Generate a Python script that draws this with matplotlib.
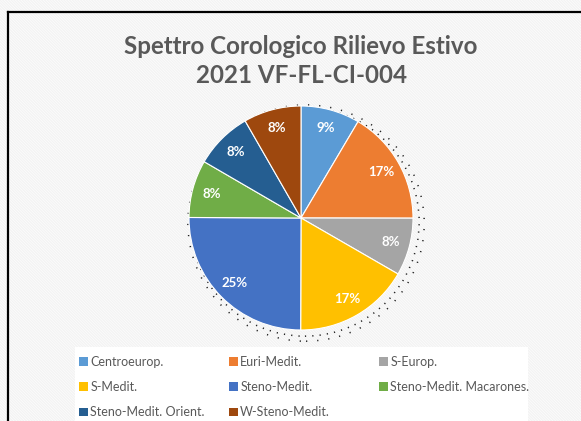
import matplotlib
matplotlib.use("Agg")
import matplotlib.pyplot as plt
from matplotlib.patches import Rectangle, Patch, Circle
from matplotlib.lines import Line2D
import numpy as np

categories = ["Centroeurop.", "Euri-Medit.", "S-Europ.", "S-Medit.",
              "Steno-Medit.", "Steno-Medit. Macarones.", "Steno-Medit. Orient.",
              "W-Steno-Medit."]
values = [8.5, 16.5, 8.3, 16.7, 25.0, 8.3, 8.3, 8.3]
pct_labels = ["9%", "17%", "8%", "17%", "25%", "8%", "8%", "8%"]
colors = ["#5B9BD5", "#ED7D31", "#A5A5A5", "#FFC000", "#4472C4", "#70AD47",
          "#255E91", "#9E480E"]
title = "Spettro Corologico Rilievo Estivo\n2021 VF-FL-CI-004"

W, H = 581, 421
fig = plt.figure(figsize=(W / 100, H / 100), dpi=100)
fig.patch.set_facecolor("white")
plt.rcParams["hatch.linewidth"] = 1.0

# striped background
bg = Rectangle((0, 0), 1, 1, transform=fig.transFigure, facecolor="white",
               edgecolor="#F3F3F3", hatch="\\" * 12, lw=0, zorder=-10)
fig.add_artist(bg)
# white legend area
fig.add_artist(Rectangle((75 / W, 0), (528 - 75) / W, (H - 347) / H,
                         transform=fig.transFigure, facecolor="white",
                         edgecolor="none", zorder=-9))
# border lines (top / left)
fig.add_artist(Line2D([8 / W, 8 / W], [0, 1 - 12 / H], transform=fig.transFigure,
                      color="black", lw=1.6))
fig.add_artist(Line2D([8 / W, 1], [1 - 12 / H, 1 - 12 / H], transform=fig.transFigure,
                      color="black", lw=1.6))

cx, cy, r = 301, 218, 112
ax = fig.add_axes([(cx - r) / W, (H - cy - r) / H, 2 * r / W, 2 * r / H])

# soft shadow dots
for rad, off, pat in [(1.02, 0.035, (0, (0.8, 4.0))), (1.055, 0.045, (0, (0.8, 6.5)))]:
    ax.add_patch(Circle((off, -off), rad, fill=False, edgecolor="#222222",
                        lw=1.1, linestyle=pat, zorder=0, clip_on=False))

wedges, _ = ax.pie(values, colors=colors, startangle=90, counterclock=False,
                   radius=1.0, wedgeprops=dict(linewidth=0.8, edgecolor="white"))
for w in wedges:
    w.set_zorder(2)
for w, lab in zip(wedges, pct_labels):
    ang = np.deg2rad((w.theta1 + w.theta2) / 2)
    ax.text(0.83 * np.cos(ang), 0.83 * np.sin(ang), lab, ha="center", va="center",
            color="white", fontsize=9.5, fontweight="bold", family="Lato", zorder=3)
ax.set_xlim(-1, 1)
ax.set_ylim(-1, 1)
ax.set_aspect("equal")
ax.axis("off")

fig.text(cx / W, 1 - 61 / H, title, ha="center", va="center", fontsize=17.4,
         fontweight="bold", color="#595959", family="Lato", linespacing=1.35)

handles = [Patch(facecolor=c, edgecolor="none") for c in colors]
col_x = [79, 229, 379]
for ci in range(3):
    idx = [i for i in range(len(categories)) if i % 3 == ci]
    leg = fig.legend([handles[i] for i in idx], [categories[i] for i in idx],
                     loc="upper left", bbox_to_anchor=(col_x[ci] / W, 1 - 356 / H),
                     frameon=False, ncol=1, handlelength=0.7, handleheight=0.7,
                     handletextpad=0.2, labelspacing=1.05, borderaxespad=0,
                     borderpad=0, prop=dict(family="Lato", size=9))
    for t in leg.get_texts():
        t.set_color("#595959")

fig.savefig("out.png", dpi=100)
